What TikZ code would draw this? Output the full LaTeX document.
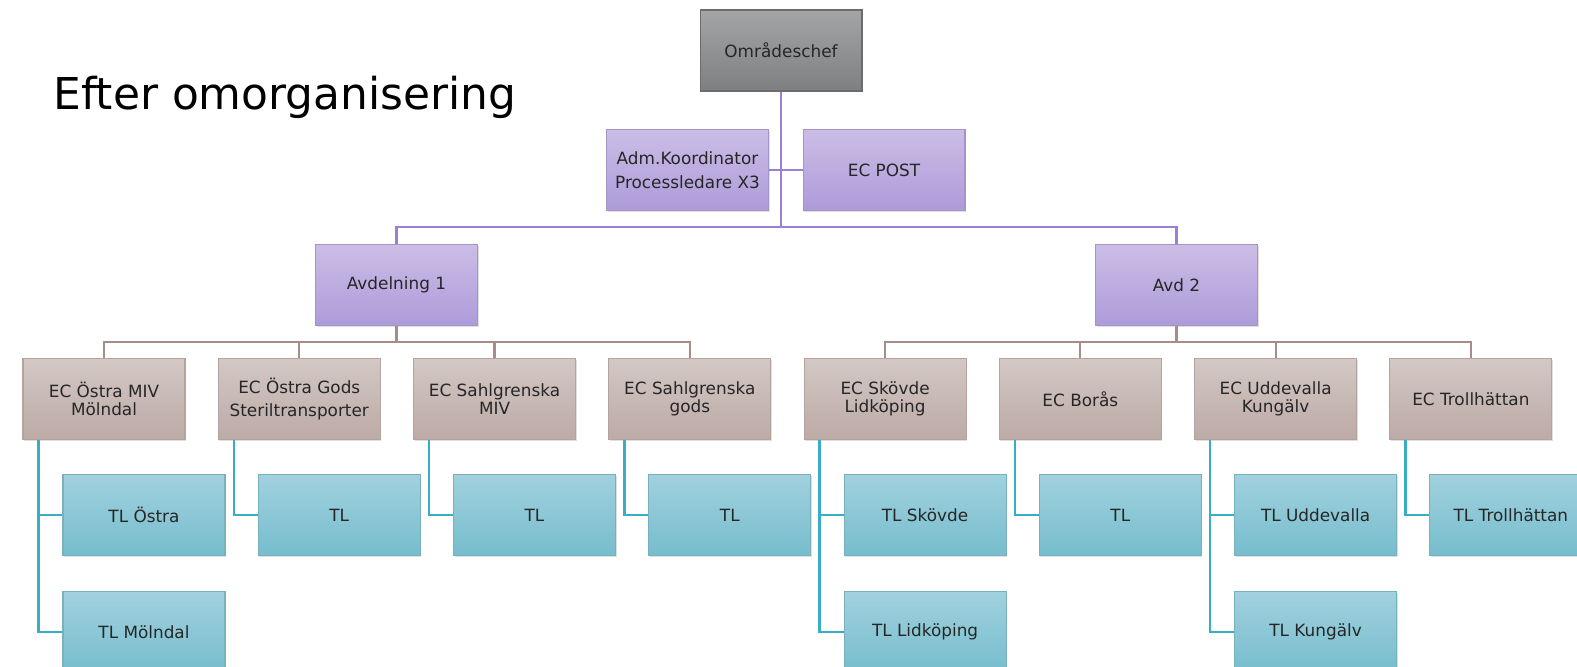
\documentclass[tikz,border=0pt]{standalone}
\usepackage{fontspec}
\setmainfont{DejaVu Sans}
\usepackage{xcolor}
\usepackage{tikz}
\usetikzlibrary{positioning, calc, shadows}

\definecolor{chieftop}{HTML}{A3A5A6}
\definecolor{chiefbot}{HTML}{7D7F80}
\definecolor{lilactop}{HTML}{CBBDE6}
\definecolor{lilacbot}{HTML}{AD9BD9}
\definecolor{ectop}{HTML}{D3C8C4}
\definecolor{ecbot}{HTML}{BCAAA5}
\definecolor{tltop}{HTML}{A1D1DE}
\definecolor{tlbot}{HTML}{76BDCD}
\definecolor{lilacline}{HTML}{9B7FD4}
\definecolor{brownline}{HTML}{A88C86}
\definecolor{cyanline}{HTML}{37AEC5}
\definecolor{boxtext}{HTML}{262626}

\begin{document}
\begin{tikzpicture}[
    x=0.02cm, y=-0.02cm,
    node distance=0.7cm and 0.645cm,
    orgbox/.style={rectangle, minimum width=3.24cm, minimum height=1.62cm, align=center,
        text=boxtext, font=\fontsize{9.6}{10.4}\selectfont, line width=0.6pt,
        drop shadow={shadow xshift=0.6pt, shadow yshift=-0.6pt, opacity=0.25}},
    chief/.style={orgbox, top color=chieftop, bottom color=chiefbot, draw=chiefbot!85!black},
    lilac/.style={orgbox, top color=lilactop, bottom color=lilacbot, draw=lilacbot!80!gray},
    ecbox/.style={orgbox, top color=ectop, bottom color=ecbot, draw=ecbot!85!gray},
    tlbox/.style={orgbox, top color=tltop, bottom color=tlbot, draw=tlbot!80!gray},
    pline/.style={draw=lilacline, line width=1.2pt},
    bline/.style={draw=brownline, line width=1.2pt},
    cline/.style={draw=cyanline, line width=1.4pt},
    title/.style={font=\fontsize{25}{30}\selectfont, inner sep=0pt, anchor=base west}
]
    \useasboundingbox (0,0) rectangle (1577,666);
    \clip (0,0) rectangle (1577,666);

    % --- Title ---
    \node[title] (rubrik) at (53,109) {Efter omorganisering};

    % --- Top ---
    \node[chief] (omr) at (781,50.5) {Områdeschef};
    \node[lilac] (adm) at (687.5,170) {Adm.Koordinator\\[3.2pt]Processledare X3};
    \node[lilac] (ecpost) at (884,170) {EC POST};

    % --- Avdelningar ---
    \node[lilac] (avd1) at (396.5,285) {Avdelning 1};
    \node[lilac] (avd2) at (1176.5,285) {Avd 2};

    % --- EC row ---
    \node[ecbox] (ec1) at (104,399) {EC Östra MIV\\Mölndal};
    \node[ecbox, right=of ec1] (ec2) {EC Östra Gods\\[3pt]Steriltransporter};
    \node[ecbox, right=of ec2] (ec3) {EC Sahlgrenska\\MIV};
    \node[ecbox, right=of ec3] (ec4) {EC Sahlgrenska\\gods};
    \node[ecbox, right=of ec4] (ec5) {EC Skövde\\Lidköping};
    \node[ecbox, right=of ec5] (ec6) {EC Borås};
    \node[ecbox, right=of ec6] (ec7) {EC Uddevalla\\Kungälv};
    \node[ecbox, right=of ec7] (ec8) {EC Trollhättan};

    % --- TL boxes ---
    \node[tlbox, below right=0.68cm and 0.8cm of ec1.south west] (tl-ostra) {TL Östra};
    \node[tlbox, below=of tl-ostra] (tl-molndal) {TL Mölndal};
    \node[tlbox, below right=0.68cm and 0.8cm of ec2.south west] (tl-gods) {TL};
    \node[tlbox, below right=0.68cm and 0.8cm of ec3.south west] (tl-miv) {TL};
    \node[tlbox, below right=0.68cm and 0.8cm of ec4.south west] (tl-sahl) {TL};
    \node[tlbox, below right=0.68cm and 0.8cm of ec5.south west] (tl-skovde) {TL Skövde};
    \node[tlbox, below=of tl-skovde] (tl-lidkoping) {TL Lidköping};
    \node[tlbox, below right=0.68cm and 0.8cm of ec6.south west] (tl-boras) {TL};
    \node[tlbox, below right=0.68cm and 0.8cm of ec7.south west] (tl-uddevalla) {TL Uddevalla};
    \node[tlbox, below=of tl-uddevalla] (tl-kungalv) {TL Kungälv};
    \node[tlbox, below right=0.68cm and 0.8cm of ec8.south west] (tl-troll) {TL Trollhättan};

    % --- Connections ---
    \coordinate (topbar) at (781,227);
    \draw[pline] (omr.south) -- (topbar);
    \draw[pline] (adm.east) -- (ecpost.west);
    \draw[pline] (avd1.north) |- (topbar) -| (avd2.north);

    \coordinate (bar1) at ($(avd1.south)+(0,16)$);
    \coordinate (bar2) at ($(avd2.south)+(0,16)$);
    \draw[bline] (avd1.south) -- (bar1);
    \draw[bline] (avd2.south) -- (bar2);
    \draw[bline] (ec1.north) |- (bar1) -| (ec4.north);
    \draw[bline] (ec5.north) |- (bar2) -| (ec8.north);
    \foreach \ec/\bar in {ec2/bar1, ec3/bar1, ec6/bar2, ec7/bar2}
        \draw[bline] (\ec.north) -- (\ec.north |- \bar);

    \foreach \ec/\tl in {ec1/tl-ostra, ec1/tl-molndal, ec2/tl-gods, ec3/tl-miv, ec4/tl-sahl,
                         ec5/tl-skovde, ec5/tl-lidkoping, ec6/tl-boras,
                         ec7/tl-uddevalla, ec7/tl-kungalv, ec8/tl-troll}
        \draw[cline] ([xshift=0.32cm]\ec.south west) |- (\tl.west);

\end{tikzpicture}
\end{document}
